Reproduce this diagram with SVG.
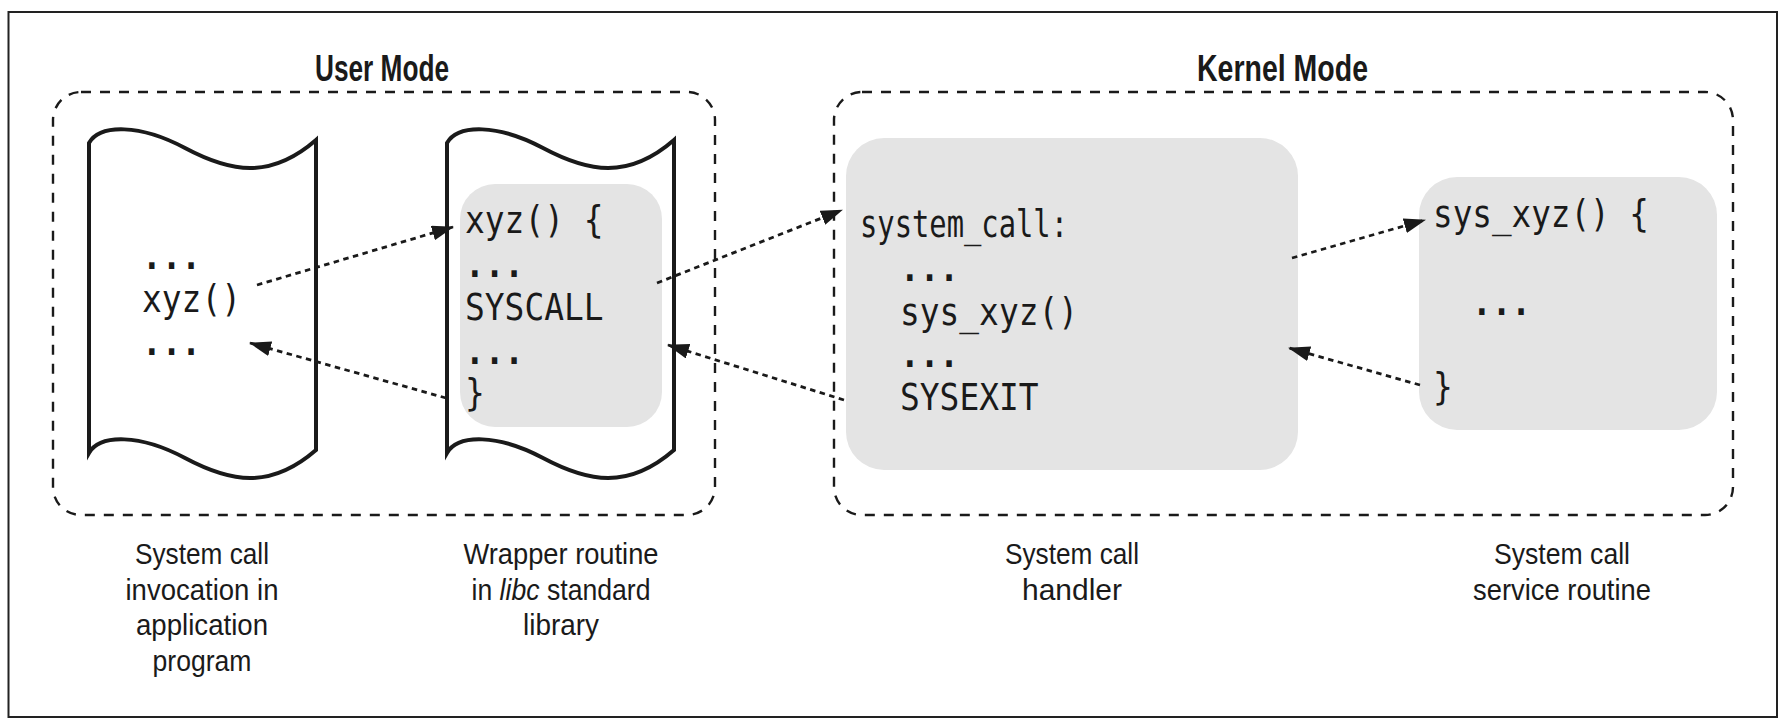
<svg xmlns="http://www.w3.org/2000/svg" width="1791" height="727" viewBox="0 0 1791 727">
  <style>
    .frame { fill: #ffffff; stroke: #222222; stroke-width: 2; }
    .mode { fill: none; stroke: #1a1a1a; stroke-width: 2.4; stroke-dasharray: 10 9; }
    .title { font-family: "Liberation Sans", Arial, sans-serif; font-weight: bold; font-size: 36px; fill: #1a1a1a; }
    .doc { fill: #ffffff; stroke: #1a1a1a; stroke-width: 4; stroke-linejoin: miter; }
    .panel { fill: #e4e4e4; }
    .code { font-family: "DejaVu Sans Mono", "Liberation Mono", monospace; font-size: 37px; fill: #1a1a1a; }
    .dots { font-weight: bold; }
    .label { font-family: "Liberation Sans", Arial, sans-serif; font-size: 30px; fill: #1a1a1a; text-anchor: middle; }
    .label.run { text-anchor: start; }
    .flow { fill: none; stroke: #1a1a1a; stroke-width: 2.8; stroke-dasharray: 5.5 4.5; marker-end: url(#head); }
  </style>
  <defs>
    <marker id="head" viewBox="0 0 22 15" refX="21" refY="7.5" markerWidth="22" markerHeight="15" markerUnits="userSpaceOnUse" orient="auto">
      <path d="M0,0 L22,7.5 L0,15 Z" fill="#1a1a1a"/>
    </marker>
    <!-- page of a listing: wavy top and bottom edges -->
    <path id="page" d="M89,143 C100,124 140,124 185,148 C230,172 270,180 316,140 L316,450 C270,490 230,482 185,458 C140,434 100,434 89,453 Z"/>
  </defs>

  <rect class="frame" x="8.5" y="12" width="1768.5" height="705"/>

  <!-- privilege regions -->
  <g id="user-mode">
    <rect class="mode" x="53" y="92" width="662" height="423" rx="28"/>
    <text class="title" x="315" y="81" textLength="134" lengthAdjust="spacingAndGlyphs">User Mode</text>
  </g>
  <g id="kernel-mode">
    <rect class="mode" x="834" y="92" width="899" height="423" rx="28"/>
    <text class="title" x="1197" y="81" textLength="171" lengthAdjust="spacingAndGlyphs">Kernel Mode</text>
  </g>

  <!-- application program -->
  <g id="application">
    <use href="#page" class="doc"/>
    <text class="code dots" x="142" y="269" textLength="59" lengthAdjust="spacingAndGlyphs">...</text>
    <text class="code" x="142" y="312" textLength="99" lengthAdjust="spacingAndGlyphs">xyz()</text>
    <text class="code dots" x="142" y="355" textLength="59" lengthAdjust="spacingAndGlyphs">...</text>
    <text class="label" x="202" y="564" textLength="134" lengthAdjust="spacingAndGlyphs">System call</text>
    <text class="label" x="202" y="599.5" textLength="153" lengthAdjust="spacingAndGlyphs">invocation in</text>
    <text class="label" x="202" y="635" textLength="132" lengthAdjust="spacingAndGlyphs">application</text>
    <text class="label" x="202" y="670.5" textLength="99" lengthAdjust="spacingAndGlyphs">program</text>
  </g>

  <!-- libc wrapper routine -->
  <g id="wrapper">
    <use href="#page" class="doc" transform="translate(358,0)"/>
    <rect class="panel" x="460" y="184" width="202" height="243" rx="35"/>
    <text class="code" x="465" y="233" textLength="138.6" lengthAdjust="spacingAndGlyphs">xyz() {</text>
    <text class="code dots" x="465" y="277" textLength="59" lengthAdjust="spacingAndGlyphs">...</text>
    <text class="code" x="465" y="320" textLength="138.6" lengthAdjust="spacingAndGlyphs">SYSCALL</text>
    <text class="code dots" x="465" y="364" textLength="59" lengthAdjust="spacingAndGlyphs">...</text>
    <text class="code" x="465" y="406" textLength="19.8" lengthAdjust="spacingAndGlyphs">}</text>
    <text class="label" x="561" y="564" textLength="195" lengthAdjust="spacingAndGlyphs">Wrapper routine</text>
    <!-- second caption line: "in libc standard", with libc set in italics -->
    <text class="label run" x="471.5" y="599.5" textLength="20.7" lengthAdjust="spacingAndGlyphs">in</text>
    <text class="label run" x="499.6" y="599.5" font-style="italic" textLength="39.9" lengthAdjust="spacingAndGlyphs">libc</text>
    <text class="label run" x="547" y="599.5" textLength="103.5" lengthAdjust="spacingAndGlyphs">standard</text>
    <text class="label" x="561" y="635" textLength="76" lengthAdjust="spacingAndGlyphs">library</text>
  </g>

  <!-- system call handler -->
  <g id="handler">
    <rect class="panel" x="846" y="138" width="452" height="332" rx="38"/>
    <text class="code" x="860" y="237" textLength="208" lengthAdjust="spacingAndGlyphs">system_call:</text>
    <text class="code dots" x="900" y="281" textLength="59" lengthAdjust="spacingAndGlyphs">...</text>
    <text class="code" x="900" y="325" textLength="178" lengthAdjust="spacingAndGlyphs">sys_xyz()</text>
    <text class="code dots" x="900" y="367" textLength="59" lengthAdjust="spacingAndGlyphs">...</text>
    <text class="code" x="900" y="410" textLength="138.6" lengthAdjust="spacingAndGlyphs">SYSEXIT</text>
    <text class="label" x="1072" y="564" textLength="134" lengthAdjust="spacingAndGlyphs">System call</text>
    <text class="label" x="1072" y="599.5" textLength="100" lengthAdjust="spacingAndGlyphs">handler</text>
  </g>

  <!-- system call service routine -->
  <g id="service">
    <rect class="panel" x="1419" y="177" width="298" height="253" rx="38"/>
    <text class="code" x="1433" y="227" textLength="216" lengthAdjust="spacingAndGlyphs">sys_xyz() {</text>
    <text class="code dots" x="1472" y="315" textLength="59" lengthAdjust="spacingAndGlyphs">...</text>
    <text class="code" x="1433" y="400" textLength="19.8" lengthAdjust="spacingAndGlyphs">}</text>
    <text class="label" x="1562" y="564" textLength="136" lengthAdjust="spacingAndGlyphs">System call</text>
    <text class="label" x="1562" y="599.5" textLength="178" lengthAdjust="spacingAndGlyphs">service routine</text>
  </g>

  <!-- call and return flow -->
  <g id="connectors">
    <line class="flow" x1="257" y1="285" x2="453" y2="227"/>
    <line class="flow" x1="446" y1="398" x2="250" y2="343"/>
    <line class="flow" x1="657" y1="283" x2="842" y2="210"/>
    <line class="flow" x1="844" y1="400" x2="668" y2="345"/>
    <line class="flow" x1="1292" y1="258" x2="1425" y2="220"/>
    <line class="flow" x1="1420" y1="385" x2="1289" y2="348"/>
  </g>
</svg>
